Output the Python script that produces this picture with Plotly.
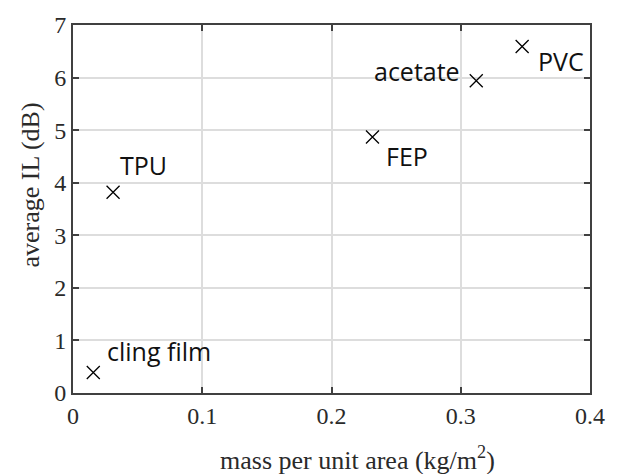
import plotly.graph_objects as go

materials = ["cling film", "TPU", "FEP", "acetate", "PVC"]
mass = [0.0157, 0.031, 0.2317, 0.312, 0.3475]
avg_il = [0.39, 3.82, 4.87, 5.94, 6.59]
x_ticks = [0, 0.1, 0.2, 0.3, 0.4]
x_tick_labels = ["0", "0.1", "0.2", "0.3", "0.4"]
y_ticks = [0, 1, 2, 3, 4, 5, 6, 7]

# label placement (anchor, xshift, yshift) per material
label_pos = {
    "cling film": ("left", 12, 22),
    "TPU": ("left", 5, 27),
    "FEP": ("left", 12, -19),
    "acetate": ("right", -14, 10),
    "PVC": ("left", 14, -14),
}

fig = go.Figure()
fig.add_trace(go.Scatter(
    x=mass, y=avg_il, mode="markers",
    marker=dict(symbol="x-thin", size=13, line=dict(width=1.3, color="black"), color="black"),
    showlegend=False, hoverinfo="skip",
))

for m, xv, yv in zip(materials, mass, avg_il):
    anc, xs, ys = label_pos[m]
    fig.add_annotation(x=xv, y=yv, xref="x", yref="y", text=m, showarrow=False,
                       xanchor=anc, yanchor="middle", xshift=xs, yshift=ys,
                       font=dict(family="Open Sans", size=25, color="#111111"))

axis_common = dict(
    showline=True, linecolor="#404040", linewidth=2, mirror="ticks",
    ticks="inside", ticklen=6, tickwidth=2, tickcolor="#404040",
    showgrid=True, gridcolor="#dddddd", gridwidth=2, zeroline=False,
    tickfont=dict(family="Liberation Serif", size=24, color="#2a2a2a"),
)

fig.update_xaxes(range=[0, 0.4], tickvals=x_ticks, ticktext=x_tick_labels, **axis_common)
fig.update_yaxes(range=[0, 7], tickvals=y_ticks, **axis_common)

fig.add_annotation(text="mass per unit area (kg/m<sup>2</sup>)", xref="paper", yref="paper",
                   x=(358 - 73) / (591 - 73), y=-(460 - 393) / (393 - 19), showarrow=False,
                   xanchor="center", yanchor="middle",
                   font=dict(family="Liberation Serif", size=26, color="#2a2a2a"))
fig.add_annotation(text="average IL (dB)", xref="paper", yref="paper",
                   x=-(73 - 30) / (591 - 73), y=(393 - 182) / (393 - 19), showarrow=False,
                   xanchor="center", yanchor="middle", textangle=-90,
                   font=dict(family="Liberation Serif", size=26, color="#2a2a2a"))

fig.update_layout(
    width=617, height=474,
    margin=dict(l=73, r=26, t=19, b=81),
    plot_bgcolor="white", paper_bgcolor="white",
)

fig.write_html(
    "out.html",
    config={"displayModeBar": False},
    post_script="document.body.style.margin='0';document.documentElement.style.overflow='hidden';",
)
